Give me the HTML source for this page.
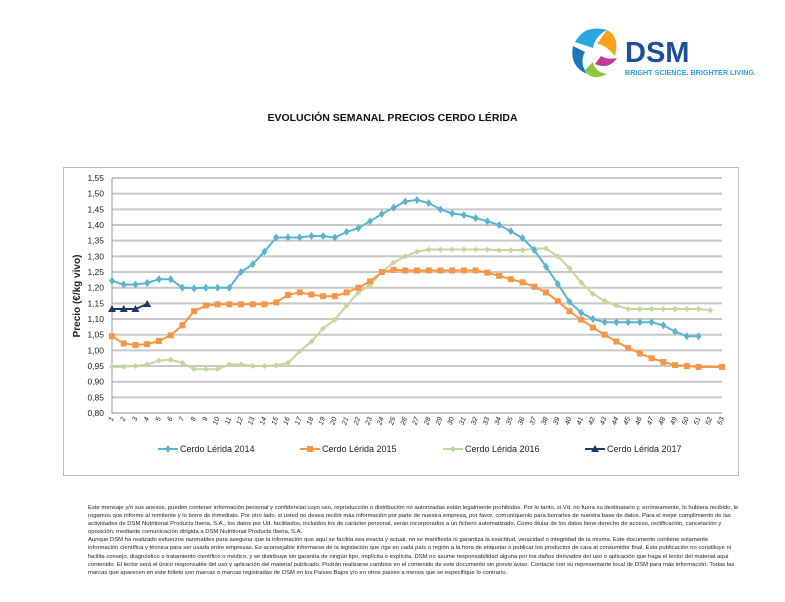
<!DOCTYPE html>
<html><head><meta charset="utf-8"><style>
body{margin:0;width:785px;height:602px;background:#fff;font-family:"Liberation Sans",sans-serif;overflow:hidden;position:relative}
.title{position:absolute;top:112px;left:0;width:785px;text-align:center;font-size:10.5px;font-weight:bold;color:#111}
.disc{position:absolute;left:88px;top:504px;width:652px;font-size:5.9px;line-height:8.1px;color:#222}
</style></head><body>
<svg style="position:absolute;left:565px;top:22px" width="195" height="62">
<path d="M10 20 Q20 2 42 8 Q30 14 28 26 Z" fill="#29a8e0"/>
<path d="M42 8 Q55 14 50 34 Q40 22 32 22 Z" fill="#f7a21b"/>
<path d="M8 24 Q4 44 22 52 Q14 40 20 30 Z" fill="#1b75bc"/>
<path d="M20 48 Q26 60 42 52 Q30 50 28 40 Z" fill="#8dc63f"/>
<path d="M30 42 Q44 48 52 36 Q42 38 36 34 Z" fill="#c1399b"/>
<circle cx="30" cy="32" r="6" fill="#fff"/>
<text x="60" y="40" font-family="Liberation Sans" font-weight="bold" font-size="29" fill="#1b4f9c">DSM</text>
<text x="60" y="53" font-family="Liberation Sans" font-weight="bold" font-size="7.2" fill="#2aa0d8">BRIGHT SCIENCE. BRIGHTER LIVING.</text>
</svg>
<div class="title">EVOLUCIÓN SEMANAL PRECIOS CERDO LÉRIDA</div>
<svg id="c" style="position:absolute;left:0;top:0" width="785" height="500"></svg>
<div class="disc">Este mensaje y/o sus anexos, pueden contener información personal y confidencial cuyo uso, reproducción o distribución no autorizadas están legalmente prohibidos. Por lo tanto, si Vd. no fuera su destinatario y, erróneamente, lo hubiera recibido, le rogamos que informe al remitente y lo borre de inmediato. Por otro lado, si usted no desea recibir más información por parte de nuestra empresa, por favor, comuníquenlo para borrarles de nuestra base de datos. Para el mejor cumplimiento de las actividades de DSM Nutritional Products Iberia, S.A., los datos por Ud. facilitados, incluidos los de carácter personal, serán incorporados a un fichero automatizado. Como titular de los datos tiene derecho de acceso, rectificación, cancelación y oposición, mediante comunicación dirigida a DSM Nutritional Products Iberia, S.A.<br>Aunque DSM ha realizado esfuerzos razonables para asegurar que la información que aquí se facilita sea exacta y actual, no se manifiesta ni garantiza la exactitud, veracidad o integridad de la misma. Este documento contiene solamente información científica y técnica para ser usada entre empresas. Es aconsejable informarse de la legislación que rige en cada país o región a la hora de etiquetar o publicar los productos de cara al consumidor final. Esta publicación no constituye ni facilita consejo, diagnóstico o tratamiento científico o médico, y se distribuye sin garantía de ningún tipo, implícita o explícita. DSM no asume responsabilidad alguna por los daños derivados del uso o aplicación que haga el lector del material aquí contenido. El lector será el único responsable del uso y aplicación del material publicado. Podrán realizarse cambios en el contenido de este documento sin previo aviso. Contacte con su representante local de DSM para más información. Todas las marcas que aparecen en este folleto son marcas o marcas registradas de DSM en los Países Bajos y/o en otros países a menos que se especifique lo contrario.</div>
<script>
var s='',X0=112,DX=(722-112)/52,Y0=178,PY=15.67/0.05;
function X(w){return X0+(w-1)*DX}function Y(v){return Y0+(1.55-v)*PY}
s+='<rect x="63.5" y="167.5" width="675" height="308" fill="#fff" stroke="#bbb"/>';
for(var i=0;i<=15;i++){var v=0.80+i*0.05,y=Y(v);s+='<line x1="112" x2="722" y1="'+y+'" y2="'+y+'" stroke="#c8c8c8" stroke-width="2"/>';
s+='<text x="104" y="'+(y+3)+'" font-size="8.5" text-anchor="end" fill="#222">'+v.toFixed(2).replace('.',',')+'</text>';}
s+='<line x1="112" x2="112" y1="178" y2="414" stroke="#999"/>';
for(var w=1;w<=53;w++){var x=X(w);s+='<text transform="translate('+(x+2)+',418) rotate(-70)" font-size="7" font-style="italic" text-anchor="end" fill="#222">'+w+'</text>';}
s+='<text transform="translate(80,296) rotate(-90)" font-size="10" font-weight="bold" text-anchor="middle" fill="#222">Precio (€/kg vivo)</text>';
var d14=[1.222,1.21,1.21,1.215,1.227,1.227,1.20,1.198,1.20,1.20,1.20,1.25,1.275,1.315,1.36,1.36,1.36,1.365,1.365,1.36,1.378,1.39,1.412,1.435,1.455,1.475,1.48,1.47,1.45,1.437,1.432,1.422,1.412,1.40,1.38,1.358,1.32,1.267,1.212,1.155,1.12,1.10,1.09,1.09,1.09,1.09,1.09,1.08,1.06,1.045,1.045];
var d15=[1.045,1.022,1.017,1.02,1.03,1.048,1.08,1.125,1.143,1.147,1.147,1.147,1.147,1.147,1.153,1.177,1.185,1.178,1.173,1.173,1.185,1.20,1.22,1.25,1.257,1.255,1.255,1.255,1.255,1.255,1.255,1.255,1.248,1.238,1.227,1.217,1.203,1.185,1.157,1.125,1.098,1.073,1.05,1.028,1.008,0.99,0.975,0.963,0.953,0.95,0.947,null,0.947];
var d16=[0.947,0.948,0.95,0.955,0.967,0.97,0.96,0.94,0.94,0.94,0.955,0.955,0.95,0.95,0.952,0.96,0.997,1.028,1.07,1.098,1.143,1.185,1.208,1.25,1.28,1.30,1.315,1.322,1.322,1.322,1.322,1.322,1.322,1.32,1.32,1.32,1.325,1.325,1.30,1.262,1.217,1.18,1.158,1.143,1.132,1.132,1.132,1.132,1.132,1.132,1.132,1.128];
var d17=[1.132,1.132,1.132,1.148];
function mk(t,x,y,c){if(t==0)return '<path d="M'+x+' '+(y-4)+'L'+(x+3)+' '+y+'L'+x+' '+(y+4)+'L'+(x-3)+' '+y+'Z" fill="'+c+'"/>';
if(t==1)return '<rect x="'+(x-3)+'" y="'+(y-3)+'" width="6" height="6" fill="'+c+'"/>';
if(t==2)return '<path d="M'+x+' '+(y-3)+'L'+(x+3)+' '+y+'L'+x+' '+(y+3)+'L'+(x-3)+' '+y+'Z" fill="'+c+'"/>';
return '<path d="M'+x+' '+(y-4)+'L'+(x+4)+' '+(y+3)+'L'+(x-4)+' '+(y+3)+'Z" fill="'+c+'"/>';}
function ser(d,c,t){var p='',m='';d.forEach(function(v,i){if(v==null)return;var x=X(i+1),y=Y(v);p+=(p?'L':'M')+x.toFixed(1)+' '+y.toFixed(1);m+=mk(t,x,y,c);});
return '<path d="'+p+'" fill="none" stroke="'+c+'" stroke-width="2"/>'+m;}
s+=ser(d16,'#c3d69b',2)+ser(d15,'#f79646',1)+ser(d14,'#5bb4cf',0)+ser(d17,'#1f3864',3);
var L=[['Cerdo Lérida 2014','#5bb4cf',0,158],['Cerdo Lérida 2015','#f79646',1,300],['Cerdo Lérida 2016','#c3d69b',2,443],['Cerdo Lérida 2017','#1f3864',3,585]];
L.forEach(function(l){s+='<line x1="'+l[3]+'" x2="'+(l[3]+20)+'" y1="449" y2="449" stroke="'+l[1]+'" stroke-width="2"/>'+mk(l[2],l[3]+10,449,l[1]);
s+='<text x="'+(l[3]+22)+'" y="452" font-size="9" fill="#222">'+l[0]+'</text>';});
document.getElementById('c').innerHTML=s;
</script>
</body></html>
